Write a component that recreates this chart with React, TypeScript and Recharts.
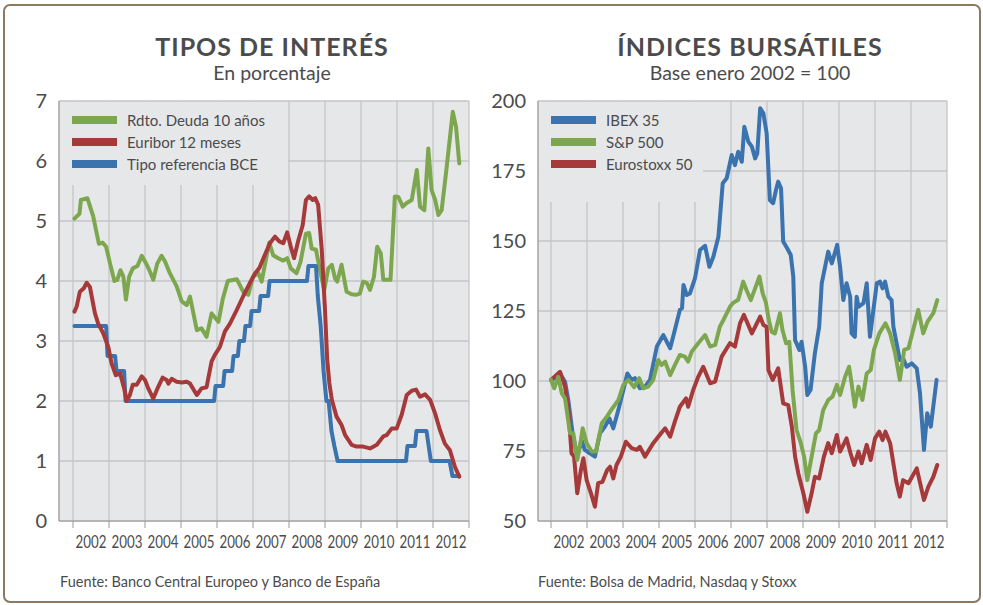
import { LineChart, Line, XAxis, YAxis, CartesianGrid, Legend } from "recharts"

// colours
const GREEN = "#7da74e"
const RED = "#a63a3b"
const BLUE = "#3b73ae"
const PLOT_BG = "#e6e7e9"
const GRID = "#c4c5c8"
const AXIS = "#9a9a9a"
const TEXT = "#4b4b4d"
const FONT = "Lato, 'Open Sans', sans-serif"

const yearTicks = [2002, 2003, 2004, 2005, 2006, 2007, 2008, 2009, 2010, 2011, 2012, 2013]
const rateTicks = [0, 1, 2, 3, 4, 5, 6, 7]
const indexTicks = [50, 75, 100, 125, 150, 175, 200]

// --- Tipos de interés (%) ---
const bondT = [2002.04, 2002.18, 2002.22, 2002.4, 2002.56, 2002.66, 2002.72, 2002.82, 2002.92, 2003.03, 2003.15, 2003.23, 2003.32, 2003.4, 2003.47, 2003.56, 2003.66, 2003.79, 2003.91, 2004.05, 2004.12, 2004.23, 2004.34, 2004.46, 2004.56, 2004.69, 2004.88, 2005.02, 2005.16, 2005.25, 2005.44, 2005.57, 2005.71, 2005.85, 2006.04, 2006.16, 2006.3, 2006.55, 2006.73, 2006.87, 2007.0, 2007.15, 2007.24, 2007.45, 2007.56, 2007.7, 2007.84, 2007.95, 2008.05, 2008.21, 2008.32, 2008.47, 2008.56, 2008.63, 2008.75, 2008.86, 2008.98, 2009.09, 2009.19, 2009.28, 2009.34, 2009.46, 2009.6, 2009.74, 2009.86, 2009.97, 2010.06, 2010.16, 2010.25, 2010.36, 2010.45, 2010.55, 2010.62, 2010.71, 2010.82, 2010.94, 2011.04, 2011.16, 2011.27, 2011.41, 2011.55, 2011.64, 2011.76, 2011.87, 2011.96, 2012.06, 2012.15, 2012.24, 2012.36, 2012.55, 2012.64, 2012.73]
const bondV = [5.04, 5.12, 5.35, 5.38, 5.08, 4.79, 4.62, 4.64, 4.57, 4.29, 4.0, 4.02, 4.18, 4.07, 3.69, 4.07, 4.21, 4.25, 4.42, 4.27, 4.18, 4.02, 4.29, 4.42, 4.32, 4.13, 3.91, 3.66, 3.6, 3.74, 3.18, 3.21, 3.07, 3.46, 3.32, 3.7, 4.0, 4.03, 3.82, 3.77, 4.07, 4.13, 3.99, 4.64, 4.43, 4.38, 4.34, 4.38, 4.21, 4.13, 4.32, 4.79, 4.8, 4.54, 4.52, 4.18, 3.85, 4.21, 4.27, 4.04, 3.99, 4.27, 3.82, 3.78, 3.77, 3.79, 3.99, 3.97, 3.85, 4.07, 4.57, 4.46, 4.02, 4.02, 4.02, 5.41, 5.4, 5.24, 5.3, 5.35, 5.85, 5.24, 5.18, 6.21, 5.52, 5.35, 5.1, 5.18, 5.79, 6.82, 6.57, 5.96]

const euriborT = [2002.04, 2002.1, 2002.19, 2002.3, 2002.38, 2002.47, 2002.61, 2002.7, 2002.84, 2002.98, 2003.07, 2003.19, 2003.31, 2003.42, 2003.49, 2003.58, 2003.66, 2003.77, 2003.91, 2004.0, 2004.09, 2004.23, 2004.37, 2004.49, 2004.6, 2004.65, 2004.74, 2004.88, 2005.02, 2005.16, 2005.25, 2005.44, 2005.57, 2005.71, 2005.85, 2005.94, 2006.08, 2006.22, 2006.36, 2006.55, 2006.73, 2006.9, 2007.05, 2007.18, 2007.29, 2007.47, 2007.61, 2007.73, 2007.84, 2007.95, 2008.05, 2008.14, 2008.26, 2008.38, 2008.47, 2008.56, 2008.66, 2008.73, 2008.81, 2008.91, 2009.0, 2009.06, 2009.12, 2009.19, 2009.32, 2009.46, 2009.56, 2009.74, 2009.88, 2010.06, 2010.25, 2010.44, 2010.62, 2010.71, 2010.85, 2010.99, 2011.13, 2011.27, 2011.41, 2011.53, 2011.64, 2011.78, 2011.92, 2012.06, 2012.19, 2012.33, 2012.47, 2012.61, 2012.73]
const euriborV = [3.49, 3.57, 3.82, 3.88, 3.97, 3.9, 3.46, 3.29, 3.13, 2.9, 2.63, 2.43, 2.46, 2.21, 2.0, 2.1, 2.27, 2.27, 2.41, 2.35, 2.21, 2.04, 2.24, 2.39, 2.35, 2.29, 2.37, 2.32, 2.31, 2.32, 2.29, 2.1, 2.21, 2.23, 2.66, 2.77, 2.9, 3.16, 3.29, 3.52, 3.75, 3.95, 4.12, 4.22, 4.38, 4.63, 4.74, 4.66, 4.63, 4.81, 4.57, 4.38, 4.68, 4.93, 5.35, 5.41, 5.35, 5.38, 5.27, 4.52, 3.52, 2.7, 2.3, 2.02, 1.74, 1.6, 1.43, 1.27, 1.24, 1.24, 1.21, 1.27, 1.41, 1.43, 1.54, 1.54, 1.77, 2.1, 2.17, 2.19, 2.07, 2.11, 2.02, 1.79, 1.52, 1.29, 1.18, 0.9, 0.74]

const ecbT = [2002.04, 2002.92, 2002.96, 2003.17, 2003.21, 2003.42, 2003.46, 2005.92, 2005.96, 2006.17, 2006.21, 2006.42, 2006.46, 2006.58, 2006.62, 2006.75, 2006.79, 2006.92, 2006.96, 2007.17, 2007.21, 2007.42, 2007.46, 2008.5, 2008.54, 2008.75, 2008.8, 2008.88, 2008.96, 2009.04, 2009.1, 2009.18, 2009.26, 2009.35, 2011.25, 2011.29, 2011.5, 2011.54, 2011.82, 2011.88, 2011.94, 2012.46, 2012.54, 2012.73]
const ecbV = [3.25, 3.25, 2.75, 2.75, 2.5, 2.5, 2.0, 2.0, 2.25, 2.25, 2.5, 2.5, 2.75, 2.75, 3.0, 3.0, 3.25, 3.25, 3.5, 3.5, 3.75, 3.75, 4.0, 4.0, 4.25, 4.25, 3.75, 3.25, 2.5, 2.0, 2.0, 1.5, 1.25, 1.0, 1.0, 1.25, 1.25, 1.5, 1.5, 1.25, 1.0, 1.0, 0.75, 0.75]

// --- Índices bursátiles (base enero 2002 = 100) ---
const ibexT = [2002.0, 2002.11, 2002.25, 2002.39, 2002.48, 2002.6, 2002.73, 2002.85, 2002.94, 2003.08, 2003.22, 2003.36, 2003.5, 2003.62, 2003.73, 2003.87, 2004.01, 2004.12, 2004.24, 2004.33, 2004.47, 2004.61, 2004.75, 2004.94, 2005.12, 2005.31, 2005.44, 2005.58, 2005.64, 2005.68, 2005.77, 2005.86, 2006.0, 2006.14, 2006.28, 2006.4, 2006.51, 2006.65, 2006.77, 2006.88, 2007.02, 2007.11, 2007.2, 2007.3, 2007.37, 2007.48, 2007.58, 2007.67, 2007.73, 2007.81, 2007.9, 2007.99, 2008.08, 2008.17, 2008.25, 2008.31, 2008.39, 2008.45, 2008.56, 2008.66, 2008.73, 2008.78, 2008.9, 2008.96, 2009.06, 2009.12, 2009.21, 2009.33, 2009.45, 2009.52, 2009.7, 2009.8, 2009.95, 2010.03, 2010.12, 2010.21, 2010.31, 2010.35, 2010.44, 2010.49, 2010.54, 2010.68, 2010.77, 2010.86, 2011.05, 2011.14, 2011.21, 2011.28, 2011.37, 2011.46, 2011.51, 2011.69, 2011.78, 2011.88, 2012.02, 2012.16, 2012.25, 2012.36, 2012.45, 2012.55, 2012.71]
const ibexV = [100.4, 101, 102.7, 99.7, 93.2, 81.3, 73, 78.9, 75.4, 74.2, 73, 81.3, 83.7, 86.7, 83.1, 89.6, 96.8, 102.7, 100.4, 101, 97.4, 98, 100.4, 112.3, 116.4, 111.7, 118.2, 125.4, 126, 134.3, 130.7, 131.3, 136.7, 146.8, 148.3, 140.8, 144.4, 151.5, 170.6, 172.4, 180.7, 177.1, 181.9, 178.3, 190.8, 185.5, 183.7, 179.5, 181.3, 197.4, 195.6, 188.5, 164.6, 163.5, 168.2, 171.2, 168.8, 149.8, 147.4, 145, 137.3, 114.6, 111.1, 114, 105.1, 95, 96.8, 109.9, 119.4, 134.9, 146.2, 142, 148.6, 140.8, 128.9, 134.9, 130.1, 117, 115.8, 130.1, 126.5, 127.8, 134.9, 115.8, 134.9, 135.5, 133.1, 135.5, 130.1, 128.9, 119.4, 107.5, 108.1, 105.1, 106.3, 104.5, 95.6, 75.4, 88.5, 83.7, 100.4]

const spT = [2002.0, 2002.09, 2002.2, 2002.3, 2002.39, 2002.53, 2002.62, 2002.73, 2002.83, 2002.88, 2002.99, 2003.13, 2003.25, 2003.41, 2003.55, 2003.66, 2003.87, 2004.01, 2004.15, 2004.31, 2004.45, 2004.56, 2004.7, 2004.84, 2004.98, 2005.07, 2005.17, 2005.31, 2005.44, 2005.58, 2005.72, 2005.81, 2005.91, 2006.09, 2006.28, 2006.42, 2006.56, 2006.69, 2006.79, 2006.97, 2007.05, 2007.2, 2007.34, 2007.43, 2007.55, 2007.67, 2007.79, 2007.88, 2007.97, 2008.05, 2008.13, 2008.22, 2008.36, 2008.43, 2008.53, 2008.62, 2008.71, 2008.82, 2008.94, 2009.03, 2009.12, 2009.24, 2009.36, 2009.45, 2009.56, 2009.7, 2009.82, 2009.94, 2010.03, 2010.17, 2010.28, 2010.35, 2010.44, 2010.54, 2010.65, 2010.77, 2010.88, 2010.97, 2011.12, 2011.29, 2011.42, 2011.56, 2011.69, 2011.81, 2011.93, 2012.06, 2012.2, 2012.34, 2012.46, 2012.62, 2012.73]
const spV = [100.4, 97.4, 101.5, 95.6, 93.8, 81.3, 81.3, 71.8, 78.9, 83.1, 77.8, 74.8, 74.8, 84.9, 87.2, 89.4, 93.2, 98.6, 100.4, 97.8, 101, 97.4, 98, 100.4, 107.5, 105.7, 106.9, 102.1, 105.7, 109.3, 108.7, 106.9, 110.5, 113.5, 116.4, 112.3, 112.9, 119.4, 121.8, 126.5, 127.8, 129, 135.5, 132.5, 128.9, 133.1, 137.3, 131.3, 128, 121.8, 117.6, 117, 124.2, 118.2, 113.5, 114, 96.8, 82.5, 77.8, 73, 64.6, 73, 81.3, 82.5, 89.6, 93.2, 94.4, 98.6, 95, 101.5, 105.1, 99.2, 90.8, 98, 93.2, 102.7, 103.9, 111.1, 117, 120.6, 117, 109.9, 100.4, 111.1, 111.7, 118.2, 125.4, 117, 121.2, 124.2, 128.9]

const stoxxT = [2002.0, 2002.25, 2002.39, 2002.48, 2002.57, 2002.64, 2002.73, 2002.83, 2002.9, 2002.99, 2003.11, 2003.22, 2003.31, 2003.43, 2003.56, 2003.64, 2003.73, 2003.82, 2003.94, 2004.08, 2004.24, 2004.38, 2004.47, 2004.61, 2004.84, 2004.98, 2005.17, 2005.31, 2005.44, 2005.58, 2005.75, 2005.81, 2005.95, 2006.09, 2006.23, 2006.42, 2006.56, 2006.74, 2006.97, 2007.11, 2007.25, 2007.36, 2007.58, 2007.81, 2007.9, 2007.99, 2008.04, 2008.16, 2008.31, 2008.45, 2008.59, 2008.69, 2008.78, 2008.87, 2009.01, 2009.12, 2009.24, 2009.33, 2009.45, 2009.58, 2009.7, 2009.8, 2009.94, 2010.03, 2010.21, 2010.32, 2010.42, 2010.54, 2010.63, 2010.77, 2010.88, 2011.0, 2011.12, 2011.21, 2011.29, 2011.42, 2011.6, 2011.69, 2011.78, 2011.93, 2012.16, 2012.36, 2012.48, 2012.62, 2012.73]
const stoxxV = [100.4, 103.3, 98, 90, 74.2, 73, 59.9, 68.2, 72.4, 64.6, 59.9, 55.1, 63.5, 64, 68.2, 69.4, 65.2, 70, 73, 78.3, 76, 75.4, 76.5, 73, 77.8, 80.1, 83.1, 80.1, 85.5, 90.8, 93.8, 90.8, 96.8, 101.5, 105.1, 99.2, 99.8, 108.7, 113.5, 112.3, 120.6, 123.6, 117, 123, 120, 119.4, 103.9, 100.4, 104.5, 92, 91.4, 83.7, 73, 67, 59.9, 53.3, 59.9, 65.8, 65.2, 73, 77.8, 74.2, 80.7, 74.8, 79.5, 74.2, 70, 74.8, 70.6, 77.2, 71.8, 79.5, 81.9, 78.9, 81.9, 77.8, 63.5, 58.7, 64.6, 63.5, 68.8, 57.5, 62.2, 65.8, 70]

const toPoints = (t: number[], v: number[]) => t.map((x, i) => ({ t: x, v: v[i] }))

type Item = { name: string; color: string }

const BoxLegend = ({ items, width, height }: { items: Item[]; width: number; height: number }) => (
  <div style={{ width, height, background: PLOT_BG, position: "relative", fontFamily: FONT, fontSize: 15, color: TEXT }}>
    {items.map((it, i) => (
      <div key={it.name} style={{ position: "absolute", left: 0, top: 7.5 + i * 22, height: 20, display: "flex", alignItems: "center", whiteSpace: "nowrap" }}>
        <div style={{ marginLeft: 12, width: 45, height: 8, background: it.color }} />
        <span style={{ marginLeft: 10 }}>{it.name}</span>
      </div>
    ))}
  </div>
)

// year label sits between two gridlines, in a narrow face
const YearTick = (props: any) => {
  const { x, y, payload } = props
  if (payload.value > 2012) return <g />
  return (
    <g transform={`translate(${x + 18},${y + 18})`}>
      <text transform="scale(0.74,1)" textAnchor="middle" fontFamily={FONT} fontSize={18} fill={TEXT}>
        {payload.value}
      </text>
    </g>
  )
}

type PanelProps = {
  series: { key: string; color: string; data: { t: number; v: number }[] }[]
  legend: Item[]
  legendBox: { width: number; height: number }
  domainX: [number, number]
  domainY: [number, number]
  yTicks: number[]
  rightMargin: number
}

function Panel({ series, legend, legendBox, domainX, domainY, yTicks, rightMargin }: PanelProps) {
  return (
    <LineChart width={490} height={560} margin={{ top: 101, right: rightMargin, bottom: 0, left: 0 }}>
      <CartesianGrid stroke={GRID} strokeWidth={1.3} fill={PLOT_BG} fillOpacity={1} />
      <XAxis
        type="number"
        dataKey="t"
        domain={domainX}
        ticks={yearTicks}
        allowDataOverflow
        height={39}
        tickSize={7}
        tickMargin={2}
        stroke={AXIS}
        tick={<YearTick />}
        interval={0}
      />
      <YAxis
        type="number"
        domain={domainY}
        ticks={yTicks}
        width={59}
        tickSize={0}
        tickMargin={12}
        stroke={AXIS}
        tick={{ fontFamily: FONT, fontSize: 20, fill: TEXT }}
        interval={0}
      />
      {series.map((s) => (
        <Line
          key={s.key}
          data={s.data}
          dataKey="v"
          name={s.key}
          type="linear"
          stroke={s.color}
          strokeWidth={4}
          strokeLinejoin="round"
          strokeLinecap="round"
          dot={false}
          activeDot={false}
          isAnimationActive={false}
        />
      ))}
      <Legend
        layout="vertical"
        align="center"
        verticalAlign="middle"
        wrapperStyle={{ left: 60, top: 102, width: legendBox.width, height: legendBox.height }}
        content={() => <BoxLegend items={legend} width={legendBox.width} height={legendBox.height} />}
      />
    </LineChart>
  )
}

export default function App() {
  const titleStyle = { position: "absolute" as const, width: 400, textAlign: "center" as const, fontFamily: FONT, color: TEXT, whiteSpace: "nowrap" as const }
  const head = { ...titleStyle, top: 33.8, fontSize: 25, fontWeight: 700, lineHeight: "25px", letterSpacing: 1 }
  const sub = { ...titleStyle, top: 63.1, fontSize: 19.5, lineHeight: "20px" }
  return (
    <div style={{ position: "absolute", left: 0, top: 0, width: 983, height: 605, background: "#fff", overflow: "hidden" }}>
      <div style={{ position: "absolute", left: 3, top: 4, width: 974, height: 595, border: "2px solid #8b7a61", borderRadius: 7 }} />

      <div style={{ ...head, left: 72 }}>TIPOS DE INTERÉS</div>
      <div style={{ ...sub, left: 72 }}>En porcentaje</div>
      <div style={{ ...head, left: 550 }}>ÍNDICES BURSÁTILES</div>
      <div style={{ ...sub, left: 550 }}>Base enero 2002 = 100</div>

      <div style={{ position: "absolute", left: 0, top: 0 }}>
        <Panel
          series={[
            { key: "Rdto. Deuda 10 años", color: GREEN, data: toPoints(bondT, bondV) },
            { key: "Tipo referencia BCE", color: BLUE, data: toPoints(ecbT, ecbV) },
            { key: "Euribor 12 meses", color: RED, data: toPoints(euriborT, euriborV) },
          ]}
          legend={[
            { name: "Rdto. Deuda 10 años", color: GREEN },
            { name: "Euribor 12 meses", color: RED },
            { name: "Tipo referencia BCE", color: BLUE },
          ]}
          legendBox={{ width: 228, height: 83 }}
          domainX={[2002 - 14 / 36, 2013]}
          domainY={[0, 7]}
          yTicks={rateTicks}
          rightMargin={21}
        />
      </div>
      <div style={{ position: "absolute", left: 479, top: 0 }}>
        <Panel
          series={[
            { key: "IBEX 35", color: BLUE, data: toPoints(ibexT, ibexV) },
            { key: "Eurostoxx 50", color: RED, data: toPoints(stoxxT, stoxxV) },
            { key: "S&P 500", color: GREEN, data: toPoints(spT, spV) },
          ]}
          legend={[
            { name: "IBEX 35", color: BLUE },
            { name: "S&P 500", color: GREEN },
            { name: "Eurostoxx 50", color: RED },
          ]}
          legendBox={{ width: 164, height: 100 }}
          domainX={[2002 - 13 / 36, 2013]}
          domainY={[50, 200]}
          yTicks={indexTicks}
          rightMargin={22}
        />
      </div>

      <div style={{ position: "absolute", left: 60, top: 573, fontFamily: FONT, fontSize: 14.5, color: TEXT, whiteSpace: "nowrap" }}>
        Fuente: Banco Central Europeo y Banco de España
      </div>
      <div style={{ position: "absolute", left: 538, top: 573, fontFamily: FONT, fontSize: 14.5, color: TEXT, whiteSpace: "nowrap" }}>
        Fuente: Bolsa de Madrid, Nasdaq y Stoxx
      </div>
    </div>
  )
}
